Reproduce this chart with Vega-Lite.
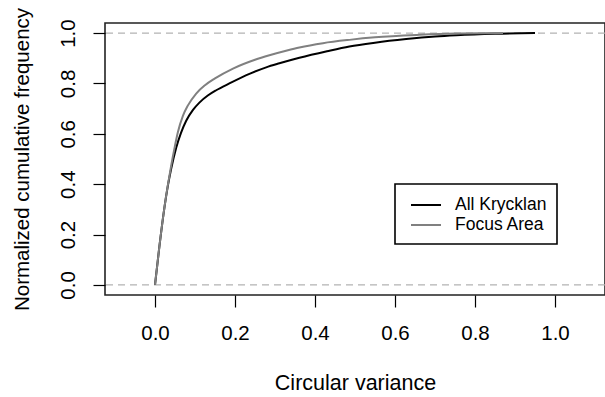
{
  "$schema": "https://vega.github.io/schema/vega-lite/v6.json",
  "autosize": "none",
  "width": 500,
  "height": 272,
  "padding": {"left": 105, "top": 23, "right": 0, "bottom": 102},
  "background": "white",
  "config": {
    "font": "Liberation Sans",
    "view": {"stroke": "#222", "strokeWidth": 1.6}
  },
  "datasets": {
    "curves": [
      {"series": "All Krycklan", "x": 0, "y": 0},
      {"series": "All Krycklan", "x": 0.011, "y": 0.153},
      {"series": "All Krycklan", "x": 0.024, "y": 0.312},
      {"series": "All Krycklan", "x": 0.032, "y": 0.392},
      {"series": "All Krycklan", "x": 0.040, "y": 0.458},
      {"series": "All Krycklan", "x": 0.053, "y": 0.545},
      {"series": "All Krycklan", "x": 0.065, "y": 0.604},
      {"series": "All Krycklan", "x": 0.078, "y": 0.652},
      {"series": "All Krycklan", "x": 0.095, "y": 0.695},
      {"series": "All Krycklan", "x": 0.111, "y": 0.724},
      {"series": "All Krycklan", "x": 0.132, "y": 0.752},
      {"series": "All Krycklan", "x": 0.153, "y": 0.773},
      {"series": "All Krycklan", "x": 0.186, "y": 0.800},
      {"series": "All Krycklan", "x": 0.236, "y": 0.838},
      {"series": "All Krycklan", "x": 0.278, "y": 0.864},
      {"series": "All Krycklan", "x": 0.311, "y": 0.880},
      {"series": "All Krycklan", "x": 0.361, "y": 0.902},
      {"series": "All Krycklan", "x": 0.43, "y": 0.928},
      {"series": "All Krycklan", "x": 0.486, "y": 0.947},
      {"series": "All Krycklan", "x": 0.55, "y": 0.962},
      {"series": "All Krycklan", "x": 0.628, "y": 0.976},
      {"series": "All Krycklan", "x": 0.70, "y": 0.986},
      {"series": "All Krycklan", "x": 0.753, "y": 0.991},
      {"series": "All Krycklan", "x": 0.85, "y": 0.997},
      {"series": "All Krycklan", "x": 0.95, "y": 1.0},
      {"series": "Focus Area", "x": 0, "y": 0},
      {"series": "Focus Area", "x": 0.011, "y": 0.153},
      {"series": "Focus Area", "x": 0.024, "y": 0.312},
      {"series": "Focus Area", "x": 0.032, "y": 0.395},
      {"series": "Focus Area", "x": 0.040, "y": 0.470},
      {"series": "Focus Area", "x": 0.049, "y": 0.545},
      {"series": "Focus Area", "x": 0.057, "y": 0.605},
      {"series": "Focus Area", "x": 0.070, "y": 0.672},
      {"series": "Focus Area", "x": 0.082, "y": 0.712},
      {"series": "Focus Area", "x": 0.103, "y": 0.760},
      {"series": "Focus Area", "x": 0.125, "y": 0.793},
      {"series": "Focus Area", "x": 0.150, "y": 0.820},
      {"series": "Focus Area", "x": 0.195, "y": 0.859},
      {"series": "Focus Area", "x": 0.25, "y": 0.894},
      {"series": "Focus Area", "x": 0.286, "y": 0.912},
      {"series": "Focus Area", "x": 0.33, "y": 0.931},
      {"series": "Focus Area", "x": 0.361, "y": 0.943},
      {"series": "Focus Area", "x": 0.42, "y": 0.960},
      {"series": "Focus Area", "x": 0.486, "y": 0.973},
      {"series": "Focus Area", "x": 0.55, "y": 0.983},
      {"series": "Focus Area", "x": 0.661, "y": 0.993},
      {"series": "Focus Area", "x": 0.75, "y": 0.998},
      {"series": "Focus Area", "x": 0.87, "y": 1.0}
    ],
    "refs": [{"y": 0}, {"y": 1}]
  },
  "layer": [
    {
      "data": {"name": "refs"},
      "mark": {"type": "rule", "stroke": "#b3b3b3", "strokeWidth": 1.2, "strokeDash": [7, 5]},
      "encoding": {
        "y": {"field": "y", "type": "quantitative", "scale": {"domain": [-0.04, 1.04], "nice": false, "zero": false}}
      }
    },
    {
      "data": {"name": "curves"},
      "mark": {"type": "line", "strokeWidth": 2, "interpolate": "monotone", "clip": true},
      "encoding": {
        "x": {
          "field": "x", "type": "quantitative",
          "scale": {"domain": [-0.125, 1.125], "nice": false, "zero": false},
          "axis": {
            "title": "Circular variance",
            "values": [0, 0.2, 0.4, 0.6, 0.8, 1.0],
            "format": ".1f",
            "grid": false, "domain": false,
            "tickColor": "#000", "tickSize": 12, "tickWidth": 1.2,
            "labelFontSize": 20.5, "labelColor": "#000", "labelPadding": 16,
            "titleFontSize": 21.5, "titleFontWeight": "normal", "titleColor": "#000", "titlePadding": 29
          }
        },
        "y": {
          "field": "y", "type": "quantitative",
          "scale": {"domain": [-0.04, 1.04], "nice": false, "zero": false},
          "axis": {
            "title": "Normalized cumulative frequency",
            "values": [0, 0.2, 0.4, 0.6, 0.8, 1.0],
            "format": ".1f",
            "grid": false, "domain": false,
            "tickColor": "#000", "tickSize": 12, "tickWidth": 1.2,
            "labelFontSize": 20.5, "labelColor": "#000", "labelAngle": -90,
            "labelAlign": "center", "labelBaseline": "bottom", "labelPadding": 15,
            "titleFontSize": 20.5, "titleFontWeight": "normal", "titleColor": "#000", "titlePadding": 26
          }
        },
        "color": {
          "field": "series", "type": "nominal",
          "scale": {"domain": ["All Krycklan", "Focus Area"], "range": ["#000000", "#808080"]},
          "legend": {
            "title": null,
            "orient": "none",
            "legendX": 290,
            "legendY": 161,
            "strokeColor": "#000",
            "fillColor": "white",
            "padding": 10,
            "symbolType": "M-1.5,0H1.5",
            "symbolSize": 400,
            "symbolOffset": 10,
            "symbolStrokeWidth": 2,
            "labelFontSize": 17.5,
            "labelColor": "#000",
            "labelOffset": 18,
            "rowPadding": 0,
            "cornerRadius": 0,
            "encode": {"legend": {"update": {"strokeWidth": {"value": 1.6}}}}
          }
        }
      }
    }
  ]
}
